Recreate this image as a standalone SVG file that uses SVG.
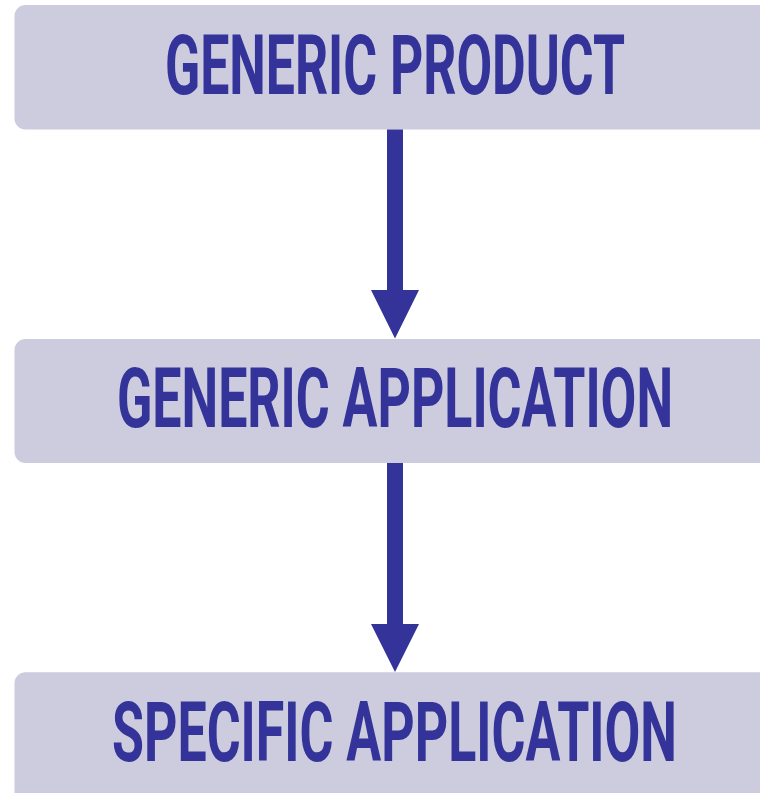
<svg xmlns="http://www.w3.org/2000/svg" width="760" height="793" viewBox="0 0 760 793">
<style>
.box{fill:#CDCCDE;}
.lbl{fill:#333399;font-family:Roboto,"Liberation Sans",sans-serif;font-weight:700;font-size:84px;text-anchor:middle;}
.arr{fill:#333399;}
</style>
<rect width="760" height="793" fill="#FFFFFF"/>
<g id="node-generic-product">
<rect class="box" x="14.5" y="5" width="760" height="124.5" rx="11"/>
<text class="lbl" x="395" y="93.5" textLength="460" lengthAdjust="spacingAndGlyphs">GENERIC PRODUCT</text>
</g>
<g id="node-generic-application">
<rect class="box" x="14.5" y="339" width="760" height="124" rx="11"/>
<text class="lbl" x="395" y="427" textLength="556" lengthAdjust="spacingAndGlyphs">GENERIC APPLICATION</text>
</g>
<g id="node-specific-application">
<rect class="box" x="14.5" y="672.3" width="760" height="140" rx="11"/>
<text class="lbl" x="394.5" y="761" textLength="565" lengthAdjust="spacingAndGlyphs">SPECIFIC APPLICATION</text>
</g>
<g id="connectors">
<path class="arr" d="M387 129.5 H403 V290 H419 L395 338.5 L371 290 H387 Z"/>
<path class="arr" d="M387 463 H403 V624 H419 L395 672 L371 624 H387 Z"/>
</g>
</svg>
